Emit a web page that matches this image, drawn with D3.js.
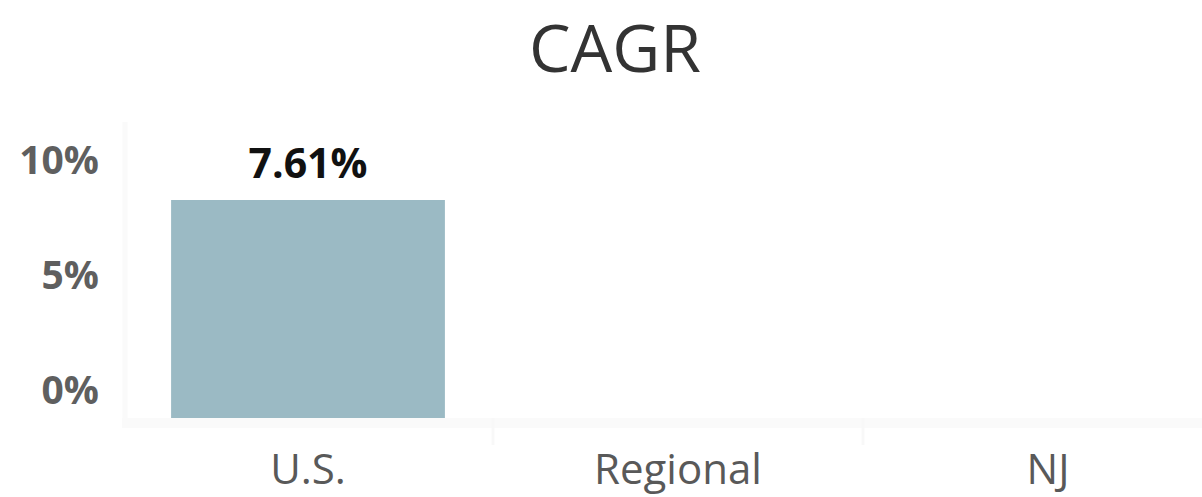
<!DOCTYPE html>
<html>
<head>
<meta charset="utf-8">
<script src="https://cdn.jsdelivr.net/npm/d3@7"></script>
<style>
  html, body { margin: 0; padding: 0; background: #fff; }
  svg { display: block; }
</style>
</head>
<body>
<svg id="chart" width="1202" height="497"></svg>
<script>
const categories = ["U.S.", "Regional", "NJ"];
const values = [7.61, null, null];
const valueLabels = ["7.61%", "", ""];
const yTicks = [0, 5, 10];
const yTickLabels = ["0%", "5%", "10%"];
const title = "CAGR";

const W = 1202, H = 497;
const svg = d3.select("#chart");
const font = "'Open Sans', 'Segoe UI', sans-serif";

const x = d3.scaleBand().domain(categories).range([123, 1233]).paddingInner(0.26).paddingOuter(0.13);
const y = d3.scaleLinear().domain([0, 7.61]).range([418, 200]);
const yLab = d3.scaleLinear().domain([0, 10]).range([390, 160]);

// faint axes
svg.append("line").attr("x1", 125).attr("x2", 125).attr("y1", 122).attr("y2", 428)
  .attr("stroke", "#fafafa").attr("stroke-width", 5);
svg.append("line").attr("x1", 122).attr("x2", W).attr("y1", 423).attr("y2", 423)
  .attr("stroke", "#fafafa").attr("stroke-width", 10);
const step = x.step();
categories.slice(1).forEach(c => {
  const bx = x(c) - step * x.paddingInner() / 2;
  svg.append("line").attr("x1", bx).attr("x2", bx).attr("y1", 418).attr("y2", 445)
    .attr("stroke", "#f8f8f8").attr("stroke-width", 3);
});

// title
svg.append("text").attr("x", 615).attr("y", 72).attr("text-anchor", "middle")
  .attr("font-family", font).attr("font-size", 66).attr("fill", "#333333").text(title);

// y tick labels
svg.selectAll(".ytick").data(yTicks).enter().append("text")
  .attr("x", 99).attr("y", d => yLab(d)).attr("dy", "0.36em")
  .attr("text-anchor", "end").attr("font-family", font).attr("font-weight", 700)
  .attr("font-size", 39).attr("fill", "#5f5f5f")
  .text((d, i) => yTickLabels[i]);

// bars
const data = categories.map((c, i) => ({ c, v: values[i], l: valueLabels[i] }));
svg.selectAll(".bar").data(data.filter(d => d.v != null)).enter().append("rect")
  .attr("x", d => x(d.c)).attr("width", x.bandwidth())
  .attr("y", d => y(d.v)).attr("height", d => y(0) - y(d.v))
  .attr("fill", "#9bbac4");

svg.selectAll(".vlab").data(data.filter(d => d.v != null)).enter().append("text")
  .attr("x", d => x(d.c) + x.bandwidth() / 2).attr("y", d => y(d.v) - 22)
  .attr("text-anchor", "middle").attr("font-family", font).attr("font-weight", 700)
  .attr("font-size", 41).attr("fill", "#111111").text(d => d.l);

// x labels
svg.selectAll(".xlab").data(categories).enter().append("text")
  .attr("x", d => x(d) + x.bandwidth() / 2).attr("y", 484)
  .attr("text-anchor", "middle").attr("font-family", font)
  .attr("font-size", 42).attr("fill", "#595959").text(d => d);
</script>
</body>
</html>
